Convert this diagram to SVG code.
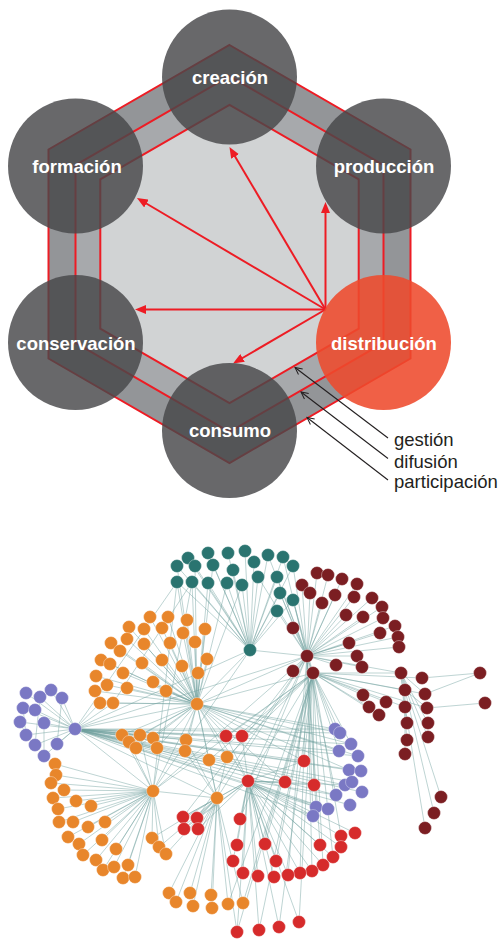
<svg xmlns="http://www.w3.org/2000/svg" width="502" height="940" viewBox="0 0 502 940">
<defs>
<style>
.hx{stroke:#ed1c24;stroke-width:2;stroke-linejoin:miter}
.gc{fill:#474749;fill-opacity:0.82}
.oc{fill:#ee4a2c;fill-opacity:0.88}
.lb{font-family:"Liberation Sans",Arial,sans-serif;font-weight:bold;font-size:18.5px;fill:#ffffff;text-anchor:middle}
.sl{font-family:"Liberation Sans",Arial,sans-serif;font-size:18.5px;fill:#231f20}
.ra{stroke:#ed1c24;stroke-width:2;fill:none}
.ba{stroke:#231f20;stroke-width:1.1;fill:none}
.e{fill:none;stroke:#6f9f9e;stroke-opacity:0.5;stroke-width:0.9}
.n circle{r:6.5px;stroke:#ffffff;stroke-opacity:0.45;stroke-width:0.8}
.t circle{fill:#2a7470}
.m circle{fill:#7b1e22}
.o circle{fill:#e8862b}
.r circle{fill:#d62b2b}
.p circle{fill:#7a78c4}
</style>
<marker id="redhead" viewBox="0 0 11 9" refX="7" refY="4.5" markerWidth="11" markerHeight="9" markerUnits="userSpaceOnUse" orient="auto">
<path d="M0 0L11 4.5L0 9z" fill="#ed1c24"/>
</marker>
<marker id="openhead" viewBox="0 0 8 8" refX="7" refY="4" markerWidth="8" markerHeight="8" markerUnits="userSpaceOnUse" orient="auto" overflow="visible">
<path d="M0 0.5L7 4L0 7.5" fill="none" stroke="#231f20" stroke-width="1"/>
</marker>
</defs>
<rect width="502" height="940" fill="#ffffff"/>

<g id="hexagon">
<polygon class="hx" fill="#939598" points="229.5,45 410.5,149.5 410.5,358.5 229.5,463 48.5,358.5 48.5,149.5"/>
<polygon class="hx" fill="#a7a9ac" points="229.5,76.2 383.5,165.1 383.5,342.9 229.5,431.8 75.5,342.9 75.5,165.1"/>
<polygon class="hx" fill="#d1d3d4" points="229.5,104.8 358.7,179.4 358.7,328.6 229.5,403.2 100.3,328.6 100.3,179.4"/>
</g>

<g id="connectors">
<line class="ra" x1="325.5" y1="309.5" x2="231.5" y2="150.4" marker-end="url(#redhead)"/>
<line class="ra" x1="325.5" y1="309.5" x2="140.4" y2="200" marker-end="url(#redhead)"/>
<line class="ra" x1="325.5" y1="309.5" x2="325.5" y2="206" marker-end="url(#redhead)"/>
<line class="ra" x1="325.5" y1="309.5" x2="139" y2="309.5" marker-end="url(#redhead)"/>
<line class="ra" x1="325.5" y1="309.5" x2="236.5" y2="361.5" marker-end="url(#redhead)"/>
</g>

<g id="node-creacion"><circle class="gc" cx="229.5" cy="77" r="67.5"/><text class="lb" x="230" y="84">creación</text></g>
<g id="node-formacion"><circle class="gc" cx="75.5" cy="166" r="67.5"/><text class="lb" x="77" y="173">formación</text></g>
<g id="node-produccion"><circle class="gc" cx="383.5" cy="166" r="67.5"/><text class="lb" x="384" y="173">producción</text></g>
<g id="node-conservacion"><circle class="gc" cx="75.5" cy="342.5" r="67.5"/><text class="lb" x="76" y="350">conservación</text></g>
<g id="node-distribucion"><circle class="oc" cx="383.5" cy="342.5" r="67.5"/><text class="lb" x="384" y="350">distribución</text></g>
<g id="node-consumo"><circle class="gc" cx="229.5" cy="430.5" r="67.5"/><text class="lb" x="230" y="437">consumo</text></g>

<g id="legend-connectors">
<line class="ba" x1="388" y1="438" x2="295" y2="367.5" marker-end="url(#openhead)"/>
<line class="ba" x1="388" y1="458.5" x2="301" y2="392" marker-end="url(#openhead)"/>
<line class="ba" x1="388" y1="480" x2="307" y2="417.5" marker-end="url(#openhead)"/>
</g>
<g id="legend-labels">
<text class="sl" x="394" y="446">gestión</text>
<text class="sl" x="394" y="467.5">difusión</text>
<text class="sl" x="394" y="488">participación</text>
</g>

<g id="network">
<g id="network-edges">
<path class="e" d="M250 650L188 558M250 650L208 553M250 650L228 553M250 650L245 551M250 650L177 566M250 650L195 566M250 650L213 565M250 650L233 570M250 650L177 582M250 650L192 582M250 650L208 583M250 650L227 583M250 650L242 585M250 650L268 555M250 650L283 557M250 650L293 566M250 650L254 562M250 650L258 577M250 650L277 577M250 650L280 593M250 650L293 600M250 650L277 611M250 650L307 656M250 650L197 704M250 650L75 729M250 650L153 791"/>
<path class="e" d="M177 582L197 704M192 582L197 704M208 583L197 704M177 566L197 704M227 583L197 704M242 585L197 704M195 566L197 704M213 565L197 704M177 582L153 791M192 582L153 791M177 582L75 729M192 582L113 703M268 555L307 656M283 557L307 656M293 566L307 656M277 577L307 656M280 593L307 656M293 600L307 656M277 611L307 656M258 577L307 656M280 593L313 673M293 600L313 673"/>
<path class="e" d="M307 656L317 573M307 656L328 575M307 656L342 579M307 656L357 584M307 656L302 585M307 656L310 593M307 656L335 595M307 656L354 597M307 656L372 598M307 656L322 603M307 656L382 607M307 656L346 615M307 656L363 617M307 656L383 618M307 656L395 626M307 656L293 628M307 656L380 633M307 656L398 637M307 656L349 643M307 656L399 647M307 656L357 656M307 656L336 665M307 656L362 667M307 656L293 671M307 656L313 673M307 656L401 673M307 656L197 704M307 656L320 845M307 656L312 871M307 656L300 873M307 656L288 875M307 656L316 807M307 656L313 816M307 656L336 795M307 656L240 819M307 656L197 818M307 656L183 817M307 656L217 798M307 656L75 729"/>
<path class="e" d="M313 673L363 695M313 673L369 707M313 673L379 715M313 673L386 702M313 673L405 690M313 673L425 694M313 673L422 678M313 673L401 673M313 673L405 707M313 673L427 708M313 673L304 761M313 673L285 782M313 673L314 785M313 673L276 861M313 673L265 844M313 673L259 930M313 673L279 927M313 673L299 922M313 673L237 932M313 673L243 903M313 673L228 904M313 673L248 781M313 673L226 736M313 673L242 736M313 673L209 760M313 673L227 757M313 673L197 704M313 673L335 729M313 673L340 733M313 673L351 744M313 673L339 751M313 673L341 836M313 673L333 857M313 673L323 865"/>
<path class="e" d="M401 673L407 723M401 673L428 723M401 673L407 740M401 673L428 737M405 690L405 754M401 673L441 797M405 690L434 813M405 707L425 828M422 678L480 673M427 708L485 703M425 694L480 673M401 673L405 690M401 673L425 694M405 690L427 708"/>
<path class="e" d="M197 704L150 617M197 704L168 617M197 704L187 620M197 704L129 627M197 704L144 629M197 704L162 628M197 704L183 633M197 704L205 629M197 704L111 643M197 704L127 639M197 704L144 644M197 704L170 643M197 704L195 642M197 704L120 651M197 704L101 660M197 704L110 664M197 704L142 663M197 704L162 660M197 704L182 666M197 704L207 659M197 704L123 673M197 704L198 673M197 704L96 676M197 704L153 682M197 704L107 685M197 704L127 688M197 704L166 691M197 704L95 691M197 704L100 703M197 704L113 703M197 704L75 729M197 704L122 735M197 704L140 735M197 704L129 742M197 704L153 738M197 704L136 748M197 704L157 748M197 704L186 740M197 704L185 751M197 704L209 760M197 704L227 757M197 704L153 791M197 704L217 798M197 704L248 781M197 704L335 729M197 704L340 733M197 704L351 744M197 704L358 756M197 704L339 751M197 704L226 736M197 704L242 736M197 704L304 761M197 704L285 782M197 704L349 770"/>
<path class="e" d="M75 729L26 693M75 729L40 697M75 729L51 690M75 729L62 698M75 729L23 708M75 729L35 710M75 729L20 722M75 729L44 723M75 729L26 735M75 729L35 745M75 729L57 744M75 729L44 756M75 729L335 729M75 729L340 733M75 729L351 744M75 729L339 751M75 729L358 756M75 729L349 770M75 729L361 771M75 729L345 785M75 729L352 782M75 729L362 792M75 729L336 795M75 729L316 807M75 729L328 809M75 729L350 805M75 729L313 816M75 729L100 703M75 729L113 703M75 729L122 735M75 729L140 735M75 729L153 738M75 729L157 748M75 729L226 736M75 729L242 736M75 729L304 761M75 729L285 782M75 729L314 785M75 729L217 798M75 729L153 791M75 729L248 781M75 729L186 740M44 723L44 756M62 698L57 744M40 697L35 745M51 690L62 698M23 708L26 735M20 722L26 735"/>
<path class="e" d="M153 791L55 764M153 791L56 775M153 791L51 783M153 791L64 790M153 791L53 798M153 791L76 801M153 791L91 806M153 791L58 809M153 791L59 822M153 791L73 822M153 791L88 827M153 791L105 822M153 791L68 837M153 791L79 844M153 791L102 840M153 791L83 855M153 791L116 849M153 791L96 860M153 791L152 838M153 791L159 847M153 791L166 854M153 791L103 870M153 791L114 867M153 791L128 865M153 791L123 878M153 791L135 877M153 791L122 735M153 791L140 735M153 791L129 742M153 791L217 798M153 791L313 673M153 791L307 656"/>
<path class="e" d="M217 798L169 893M217 798L190 893M217 798L211 895M217 798L176 902M217 798L193 906M217 798L212 908M217 798L228 904M217 798L243 903M217 798L183 817M217 798L197 818M217 798L184 829M217 798L198 829M217 798L152 838M217 798L159 847M217 798L166 854M217 798L209 760M217 798L227 757M217 798L248 781M217 798L237 932M217 798L186 740M217 798L185 751"/>
<path class="e" d="M248 781L226 736M248 781L242 736M248 781L304 761M248 781L285 782M248 781L314 785M248 781L240 819M248 781L237 845M248 781L233 861M248 781L243 873M248 781L265 844M248 781L320 845M248 781L355 833M248 781L341 836M248 781L341 847M248 781L333 857M248 781L276 861M248 781L323 865M248 781L312 871M248 781L300 873M248 781L288 875M248 781L274 877M248 781L258 876M248 781L237 932M248 781L259 930M248 781L279 927M248 781L299 922M248 781L183 817M248 781L197 818M248 781L184 829M248 781L198 829M248 781L336 795M248 781L316 807M248 781L313 816M248 781L328 809M248 781L345 785M248 781L307 656"/>
</g>

<g id="network-nodes" class="n">
<g id="cluster-teal" class="t">
<circle cx="188" cy="558"/><circle cx="208" cy="553"/><circle cx="228" cy="553"/><circle cx="245" cy="551"/><circle cx="177" cy="566"/><circle cx="195" cy="566"/><circle cx="213" cy="565"/><circle cx="233" cy="570"/><circle cx="177" cy="582"/><circle cx="192" cy="582"/><circle cx="208" cy="583"/><circle cx="227" cy="583"/><circle cx="242" cy="585"/><circle cx="268" cy="555"/><circle cx="283" cy="557"/><circle cx="293" cy="566"/><circle cx="254" cy="562"/><circle cx="258" cy="577"/><circle cx="277" cy="577"/><circle cx="280" cy="593"/><circle cx="293" cy="600"/><circle cx="277" cy="611"/><circle cx="250" cy="650"/>
</g>
<g id="cluster-maroon" class="m">
<circle cx="317" cy="573"/><circle cx="328" cy="575"/><circle cx="342" cy="579"/><circle cx="357" cy="584"/><circle cx="302" cy="585"/><circle cx="310" cy="593"/><circle cx="335" cy="595"/><circle cx="354" cy="597"/><circle cx="372" cy="598"/><circle cx="322" cy="603"/><circle cx="382" cy="607"/><circle cx="346" cy="615"/><circle cx="363" cy="617"/><circle cx="383" cy="618"/><circle cx="395" cy="626"/><circle cx="293" cy="628"/><circle cx="380" cy="633"/><circle cx="398" cy="637"/><circle cx="349" cy="643"/><circle cx="399" cy="647"/><circle cx="307" cy="656"/><circle cx="357" cy="656"/><circle cx="336" cy="665"/><circle cx="362" cy="667"/><circle cx="293" cy="671"/><circle cx="313" cy="673"/><circle cx="401" cy="673"/><circle cx="422" cy="678"/><circle cx="480" cy="673"/><circle cx="405" cy="690"/><circle cx="425" cy="694"/><circle cx="363" cy="695"/><circle cx="386" cy="702"/><circle cx="485" cy="703"/><circle cx="369" cy="707"/><circle cx="405" cy="707"/><circle cx="427" cy="708"/><circle cx="379" cy="715"/><circle cx="407" cy="723"/><circle cx="428" cy="723"/><circle cx="407" cy="740"/><circle cx="428" cy="737"/><circle cx="405" cy="754"/><circle cx="441" cy="797"/><circle cx="434" cy="813"/><circle cx="425" cy="828"/>
</g>
<g id="cluster-orange" class="o">
<circle cx="150" cy="617"/><circle cx="168" cy="617"/><circle cx="187" cy="620"/><circle cx="129" cy="627"/><circle cx="144" cy="629"/><circle cx="162" cy="628"/><circle cx="183" cy="633"/><circle cx="205" cy="629"/><circle cx="111" cy="643"/><circle cx="127" cy="639"/><circle cx="144" cy="644"/><circle cx="170" cy="643"/><circle cx="195" cy="642"/><circle cx="120" cy="651"/><circle cx="101" cy="660"/><circle cx="110" cy="664"/><circle cx="142" cy="663"/><circle cx="162" cy="660"/><circle cx="182" cy="666"/><circle cx="207" cy="659"/><circle cx="123" cy="673"/><circle cx="198" cy="673"/><circle cx="96" cy="676"/><circle cx="153" cy="682"/><circle cx="107" cy="685"/><circle cx="127" cy="688"/><circle cx="166" cy="691"/><circle cx="95" cy="691"/><circle cx="100" cy="703"/><circle cx="113" cy="703"/><circle cx="197" cy="704"/>
<circle cx="122" cy="735"/><circle cx="140" cy="735"/><circle cx="129" cy="742"/><circle cx="153" cy="738"/><circle cx="136" cy="748"/><circle cx="157" cy="748"/><circle cx="186" cy="740"/><circle cx="185" cy="751"/><circle cx="209" cy="760"/><circle cx="227" cy="757"/>
<circle cx="55" cy="764"/><circle cx="56" cy="775"/><circle cx="51" cy="783"/><circle cx="64" cy="790"/><circle cx="53" cy="798"/><circle cx="76" cy="801"/><circle cx="91" cy="806"/><circle cx="58" cy="809"/><circle cx="153" cy="791"/><circle cx="59" cy="822"/><circle cx="73" cy="822"/><circle cx="88" cy="827"/><circle cx="105" cy="822"/><circle cx="68" cy="837"/><circle cx="79" cy="844"/><circle cx="102" cy="840"/><circle cx="83" cy="855"/><circle cx="116" cy="849"/><circle cx="96" cy="860"/><circle cx="152" cy="838"/><circle cx="159" cy="847"/><circle cx="166" cy="854"/><circle cx="103" cy="870"/><circle cx="114" cy="867"/><circle cx="128" cy="865"/><circle cx="123" cy="878"/><circle cx="135" cy="877"/>
<circle cx="169" cy="893"/><circle cx="190" cy="893"/><circle cx="211" cy="895"/><circle cx="176" cy="902"/><circle cx="193" cy="906"/><circle cx="212" cy="908"/><circle cx="228" cy="904"/><circle cx="243" cy="903"/><circle cx="217" cy="798"/>
</g>
<g id="cluster-red" class="r">
<circle cx="226" cy="736"/><circle cx="242" cy="736"/><circle cx="248" cy="781"/><circle cx="304" cy="761"/><circle cx="285" cy="782"/><circle cx="314" cy="785"/><circle cx="183" cy="817"/><circle cx="197" cy="818"/><circle cx="184" cy="829"/><circle cx="198" cy="829"/><circle cx="240" cy="819"/><circle cx="237" cy="845"/><circle cx="233" cy="861"/><circle cx="243" cy="873"/><circle cx="265" cy="844"/><circle cx="320" cy="845"/><circle cx="355" cy="833"/><circle cx="341" cy="836"/><circle cx="341" cy="847"/><circle cx="333" cy="857"/><circle cx="276" cy="861"/><circle cx="323" cy="865"/><circle cx="312" cy="871"/><circle cx="300" cy="873"/><circle cx="288" cy="875"/><circle cx="274" cy="877"/><circle cx="258" cy="876"/><circle cx="237" cy="932"/><circle cx="259" cy="930"/><circle cx="279" cy="927"/><circle cx="299" cy="922"/>
</g>
<g id="cluster-purple" class="p">
<circle cx="26" cy="693"/><circle cx="40" cy="697"/><circle cx="51" cy="690"/><circle cx="62" cy="698"/><circle cx="23" cy="708"/><circle cx="35" cy="710"/><circle cx="20" cy="722"/><circle cx="44" cy="723"/><circle cx="75" cy="729"/><circle cx="26" cy="735"/><circle cx="35" cy="745"/><circle cx="57" cy="744"/><circle cx="44" cy="756"/>
<circle cx="335" cy="729"/><circle cx="340" cy="733"/><circle cx="351" cy="744"/><circle cx="339" cy="751"/><circle cx="358" cy="756"/><circle cx="349" cy="770"/><circle cx="361" cy="771"/><circle cx="345" cy="785"/><circle cx="352" cy="782"/><circle cx="362" cy="792"/><circle cx="336" cy="795"/><circle cx="316" cy="807"/><circle cx="328" cy="809"/><circle cx="350" cy="805"/><circle cx="313" cy="816"/>
</g>
</g>
</g>
</svg>
